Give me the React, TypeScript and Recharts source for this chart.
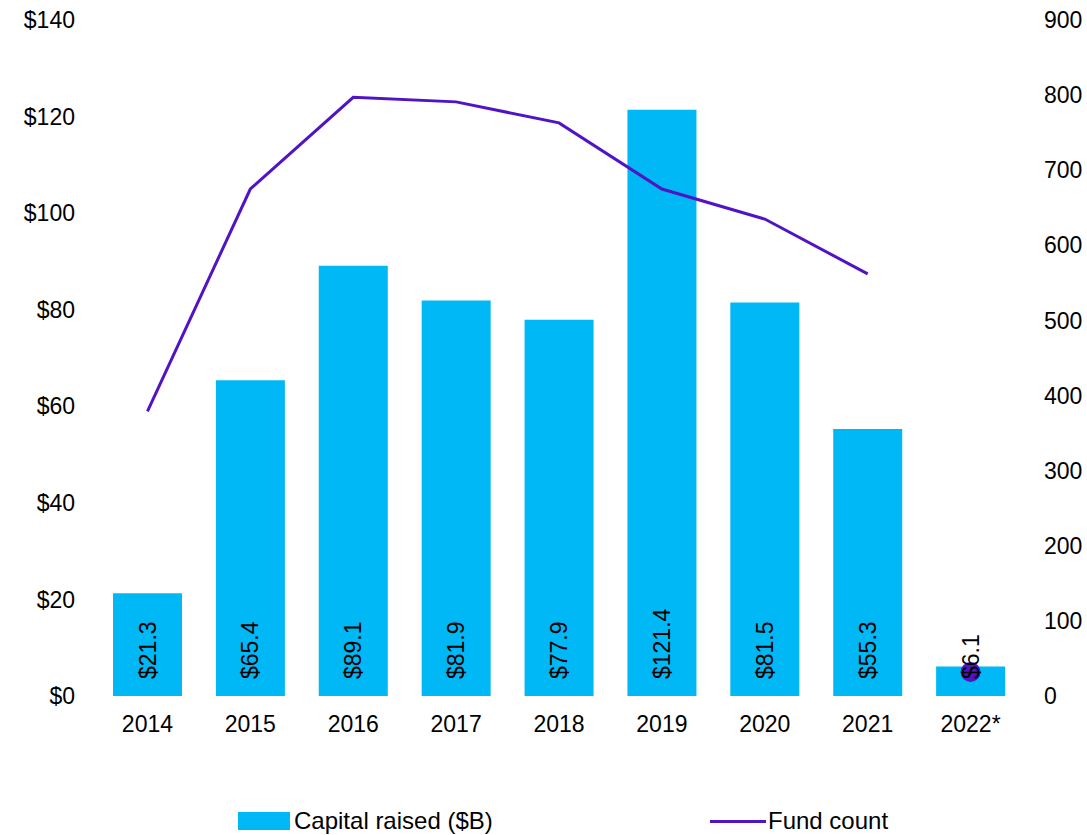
import { ComposedChart, Bar, Line, XAxis, YAxis, Legend, LabelList } from 'recharts';

const years = ['2014', '2015', '2016', '2017', '2018', '2019', '2020', '2021', '2022*'];
const capitalRaised = [21.3, 65.4, 89.1, 81.9, 77.9, 121.4, 81.5, 55.3, 6.1];
// the 2022* count is drawn as a lone marker, not joined to the line
const fundCount = [379, 675, 797, 791, 763, 675, 635, 562, 32];
const leftTicks = [0, 20, 40, 60, 80, 100, 120, 140];
const rightTicks = [0, 100, 200, 300, 400, 500, 600, 700, 800, 900];

const BAR = '#00b8f5';
const LINE = '#5014c4';
const FONT = '"Liberation Sans", Arial, sans-serif';

const data = years.map((year, i) => ({
  year,
  capital: capitalRaised[i],
  funds: i < years.length - 1 ? fundCount[i] : null,
  partial: i === years.length - 1 ? fundCount[i] : null,
}));

function BarValue(props: any) {
  const { x, y, width, height, value } = props;
  const cx = x + width / 2;
  const by = y + height - 17;
  return (
    <text
      x={cx}
      y={by}
      transform={`rotate(-90 ${cx} ${by})`}
      textAnchor="start"
      dominantBaseline="central"
      fontSize={23}
      fontFamily={FONT}
      fill="#000"
    >
      ${value.toFixed(1)}
    </text>
  );
}

function LegendBox() {
  return (
    <div style={{ position: 'relative', height: 30, fontFamily: FONT, fontSize: 24, color: '#000' }}>
      <div style={{ position: 'absolute', left: 238, top: 4, width: 52, height: 18, background: BAR }} />
      <span style={{ position: 'absolute', left: 294, top: 0, lineHeight: '26px' }}>Capital raised ($B)</span>
      <div style={{ position: 'absolute', left: 710, top: 12, width: 56, height: 3, background: LINE }} />
      <span style={{ position: 'absolute', left: 768, top: 0, lineHeight: '26px' }}>Fund count</span>
    </div>
  );
}

export default function App() {
  const tickStyle = { fontSize: 23, fontFamily: FONT, fill: '#000' };
  return (
    <div style={{ width: 1087, height: 835, background: '#fff' }}>
      <style>{'body{margin:0}'}</style>
      <ComposedChart
        width={1087}
        height={835}
        data={data}
        margin={{ top: 20, right: 0, bottom: 109, left: 0 }}
      >
        <XAxis
          dataKey="year"
          axisLine={false}
          tickLine={false}
          tick={tickStyle}
          tickMargin={14}
          interval={0}
        />
        <YAxis
          yAxisId="left"
          domain={[0, 140]}
          ticks={leftTicks}
          width={96}
          axisLine={false}
          tickLine={false}
          tick={tickStyle}
          tickMargin={15}
          tickFormatter={(v: number) => `$${v}`}
        />
        <YAxis
          yAxisId="right"
          orientation="right"
          domain={[0, 900]}
          ticks={rightTicks}
          width={65}
          axisLine={false}
          tickLine={false}
          tick={{ ...tickStyle, textAnchor: 'start' }}
          tickMargin={16}
        />
        <Bar yAxisId="left" dataKey="capital" fill={BAR} barSize={69} isAnimationActive={false}>
          <LabelList dataKey="capital" content={BarValue} />
        </Bar>
        <Line
          yAxisId="right"
          dataKey="funds"
          stroke={LINE}
          strokeWidth={3}
          dot={false}
          activeDot={false}
          connectNulls={false}
          isAnimationActive={false}
        />
        <Line
          yAxisId="right"
          dataKey="partial"
          stroke="none"
          dot={{ r: 10, fill: LINE, stroke: 'none' }}
          activeDot={false}
          legendType="none"
          isAnimationActive={false}
        />
        <Legend
          layout="horizontal"
          verticalAlign="middle"
          align="center"
          content={() => <LegendBox />}
          wrapperStyle={{ top: 808, left: 0, width: 1087 }}
        />
      </ComposedChart>
    </div>
  );
}
